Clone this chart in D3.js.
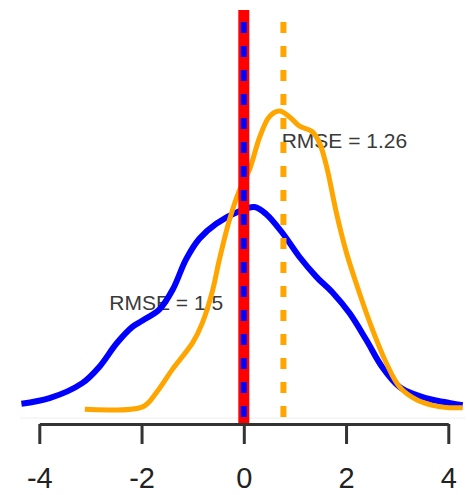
<!DOCTYPE html>
<html lang="en">
<head>
<meta charset="utf-8">
<title>RMSE densities</title>
<script src="https://cdn.jsdelivr.net/npm/d3@7"></script>
<style>
  body { margin: 0; background: #fff; }
  .tick text { font-family: "Liberation Sans", Arial, sans-serif; font-size: 29px; fill: #222; }
  .note { font-family: "Liberation Sans", Arial, sans-serif; font-size: 21px; fill: #3a3a3a; }
</style>
</head>
<body>
<div id="chart"></div>
<script>
// blue density (x, density)
const blueX = [-4.35, -3.80, -3.16, -2.82, -2.49, -2.18, -1.98, -1.65, -1.39, -1.13, -0.87, -0.54, -0.08, 0.21, 0.44, 0.76, 1.09, 1.42, 1.74, 2.07, 2.40, 2.71, 3.05, 3.38, 3.69, 4.02, 4.28];
const blueY = [0.018, 0.025, 0.044, 0.065, 0.094, 0.115, 0.123, 0.137, 0.162, 0.200, 0.226, 0.245, 0.261, 0.266, 0.257, 0.233, 0.203, 0.178, 0.158, 0.132, 0.098, 0.064, 0.039, 0.029, 0.023, 0.019, 0.016];

// orange density
const orangeX = [-3.11, -1.98, -1.71, -1.40, -1.00, -0.81, -0.61, -0.48, -0.28, -0.08, 0.11, 0.31, 0.50, 0.70, 0.89, 1.09, 1.34, 1.48, 1.62, 1.81, 2.01, 2.26, 2.52, 2.79, 3.05, 3.38, 3.69, 4.02, 4.28];
const orangeY = [0.011, 0.014, 0.032, 0.061, 0.095, 0.120, 0.161, 0.199, 0.250, 0.288, 0.313, 0.354, 0.380, 0.387, 0.380, 0.368, 0.361, 0.347, 0.317, 0.259, 0.208, 0.158, 0.111, 0.069, 0.039, 0.023, 0.016, 0.013, 0.013];

const trueValue = 0;
const orangeMean = 0.775;
const xTicks = [-4, -2, 0, 2, 4];

const notes = [
  { text: "RMSE = 1.5", x: -2.63, y: 0.136 },
  { text: "RMSE = 1.26", x: 0.74, y: 0.340 }
];

const width = 467, height = 495;
const plotTop = 10, axisY = 424;

const svg = d3.select("#chart").append("svg")
  .attr("width", width)
  .attr("height", height);

const x = d3.scaleLinear().domain([-4, 4]).range([39.3, 448.3]);
const y = d3.scaleLinear().domain([0, 0.5]).range([418, 21.5]);

// faint zero line
svg.append("line")
  .attr("x1", 20).attr("x2", 465)
  .attr("y1", y(0)).attr("y2", y(0))
  .attr("stroke", "#eee").attr("stroke-width", 1);

// annotations go under the curves
svg.selectAll("text.note")
  .data(notes)
  .enter()
  .append("text")
  .attr("class", "note")
  .attr("x", d => x(d.x))
  .attr("y", d => y(d.y))
  .text(d => d.text);

const line = d3.line()
  .x(d => x(d[0]))
  .y(d => y(d[1]))
  .curve(d3.curveCatmullRom);

svg.append("path")
  .datum(blueX.map((v, i) => [v, blueY[i]]))
  .attr("d", line)
  .attr("fill", "none")
  .attr("stroke", "#0000ff")
  .attr("stroke-width", 6);

svg.append("path")
  .datum(orangeX.map((v, i) => [v, orangeY[i]]))
  .attr("d", line)
  .attr("fill", "none")
  .attr("stroke", "#ffa500")
  .attr("stroke-width", 5);

// vertical reference lines
svg.append("line")
  .attr("x1", x(trueValue)).attr("x2", x(trueValue))
  .attr("y1", plotTop).attr("y2", axisY)
  .attr("stroke", "#ff0000").attr("stroke-width", 11);

svg.append("line")
  .attr("x1", x(trueValue)).attr("x2", x(trueValue))
  .attr("y1", plotTop).attr("y2", axisY)
  .attr("stroke", "#0000ff").attr("stroke-width", 6)
  .attr("stroke-dasharray", "11 13")
  .attr("stroke-dashoffset", -12);

svg.append("line")
  .attr("x1", x(orangeMean)).attr("x2", x(orangeMean))
  .attr("y1", plotTop).attr("y2", axisY)
  .attr("stroke", "#ffa500").attr("stroke-width", 6)
  .attr("stroke-dasharray", "11 13")
  .attr("stroke-dashoffset", -12);

// x axis
const xAxis = d3.axisBottom(x)
  .tickValues(xTicks)
  .tickFormat(d3.format("d"))
  .tickSize(20)
  .tickSizeOuter(0)
  .tickPadding(23);

const g = svg.append("g")
  .attr("transform", "translate(0," + axisY + ")")
  .call(xAxis);
g.select(".domain").attr("stroke", "#333").attr("stroke-width", 3);
g.selectAll(".tick line").attr("stroke", "#333").attr("stroke-width", 3);
g.selectAll(".tick text").text(d => d < 0 ? "-" + Math.abs(d) : d);
</script>
</body>
</html>
